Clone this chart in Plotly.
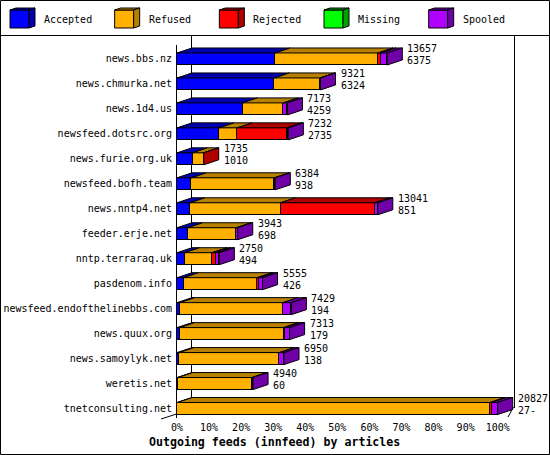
import plotly.graph_objects as go

# ---------------- data ----------------
hosts = ["news.bbs.nz", "news.chmurka.net", "news.1d4.us", "newsfeed.dotsrc.org",
         "news.furie.org.uk", "newsfeed.bofh.team", "news.nntp4.net", "feeder.erje.net",
         "nntp.terraraq.uk", "pasdenom.info", "newsfeed.endofthelinebbs.com",
         "news.quux.org", "news.samoylyk.net", "weretis.net", "tnetconsulting.net"]
offered = [13657, 9321, 7173, 7232, 1735, 6384, 13041, 3943, 2750, 5555, 7429, 7313, 6950, 4940, 20827]
accepted = [6375, 6324, 4259, 2735, 1010, 938, 851, 698, 494, 426, 194, 179, 138, 60, 27]
refused = [6680, 2967, 2643, 1169, 720, 5386, 5871, 3145, 1776, 4790, 6685, 6744, 6512, 4800, 20300]
rejected = [190, 0, 0, 3227, 5, 0, 6137, 0, 250, 80, 0, 60, 0, 0, 100]
missing = [0] * 15
spooled = [412, 30, 271, 101, 0, 60, 182, 100, 230, 259, 550, 330, 300, 80, 400]
offered_labels = [str(v) for v in offered]
accepted_labels = [str(v) for v in accepted[:-1]] + ["27-"]
series_names = ["Accepted", "Refused", "Rejected", "Missing", "Spooled"]
x_ticks = [0, 10, 20, 30, 40, 50, 60, 70, 80, 90, 100]
x_title = "Outgoing feeds (innfeed) by articles"

# ---------------- style ----------------
front_cols = ["#0000FF", "#FFB000", "#FF0000", "#00FF00", "#B000FF"]
dark_cols = ["#0000B0", "#B88000", "#B00000", "#00A000", "#7000A8"]
FONT = "DejaVu Sans Mono"
FW, FH = 550, 455
L, R, T, B = 177, 36, 35, 37
W, H = FW - L - R, FH - T - B
XMAX = 105.08
YMIN, YMAX = -0.38, 14.96
PPX = W / XMAX            # pixels per percent
PPY = H / (YMAX - YMIN)   # pixels per row unit
DX = 15 / PPX
DY = 5 / PPY
HALF = 6 / PPY


def px(x):
    return (x - L) / W


def py(y):
    return 1 - (y - T) / H


segs = [accepted, refused, rejected, missing, spooled]
n = len(hosts)
scale = 100.0 / max(offered)
rows = [n - 1 - k for k in range(n)]

fig = go.Figure()

# front faces
for s in range(5):
    vals = [v * scale if v > 0 else None for v in segs[s]]
    fig.add_trace(go.Bar(
        y=rows, x=vals, orientation="h", width=2 * HALF, name=series_names[s],
        marker=dict(color=front_cols[s], line=dict(color="black", width=1)),
        showlegend=False, hoverinfo="skip"))

# top faces and side faces
top_x = [[] for _ in range(5)]
top_y = [[] for _ in range(5)]
side_x = [[] for _ in range(5)]
side_y = [[] for _ in range(5)]
ends = []
for k in range(n):
    r = rows[k]
    cum = 0.0
    last = None
    yt = r + HALF
    yb = r - HALF
    for s in range(5):
        v = segs[s][k] * scale
        if v > 0:
            x0, x1 = cum, cum + v
            top_x[s] += [x0, x1, x1 + DX, x0 + DX, x0, None]
            top_y[s] += [yt, yt, yt + DY, yt + DY, yt, None]
            cum = x1
            last = s
    ends.append(cum)
    side_x[last] += [cum, cum + DX, cum + DX, cum, cum, None]
    side_y[last] += [yb, yb + DY, yt + DY, yt, yb, None]

for s in range(5):
    if top_x[s]:
        fig.add_trace(go.Scatter(x=top_x[s], y=top_y[s], mode="lines", fill="toself",
                                 fillcolor=dark_cols[s], line=dict(color="black", width=1),
                                 showlegend=False, hoverinfo="skip"))
for s in range(5):
    if side_x[s]:
        fig.add_trace(go.Scatter(x=side_x[s], y=side_y[s], mode="lines", fill="toself",
                                 fillcolor=dark_cols[s], line=dict(color="black", width=1),
                                 showlegend=False, hoverinfo="skip"))

annotations = []
for k in range(n):
    for txt, ys in ((offered_labels[k], 10), (accepted_labels[k], -2)):
        annotations.append(dict(x=ends[k], y=rows[k], xref="x", yref="y", text=txt,
                                xanchor="left", yanchor="middle", xshift=18, yshift=ys,
                                showarrow=False, font=dict(family=FONT, size=10, color="black")))

shapes = []
# legend cubes
for j in range(5):
    x0 = 10 + 104.67 * j
    front = f"M {px(x0)} {py(10)} L {px(x0+19)} {py(10)} L {px(x0+19)} {py(28)} L {px(x0)} {py(28)} Z"
    top = f"M {px(x0)} {py(10)} L {px(x0+6)} {py(8)} L {px(x0+25)} {py(8)} L {px(x0+19)} {py(10)} Z"
    side = f"M {px(x0+19)} {py(10)} L {px(x0+25)} {py(8)} L {px(x0+25)} {py(26)} L {px(x0+19)} {py(28)} Z"
    shapes.append(dict(type="path", path=front, xref="paper", yref="paper",
                       fillcolor=front_cols[j], line=dict(color="black", width=1)))
    shapes.append(dict(type="path", path=top, xref="paper", yref="paper",
                       fillcolor=dark_cols[j], line=dict(color="black", width=1)))
    shapes.append(dict(type="path", path=side, xref="paper", yref="paper",
                       fillcolor=dark_cols[j], line=dict(color="black", width=1)))
    annotations.append(dict(x=px(x0 + 32), y=py(20), xref="paper", yref="paper",
                            text=series_names[j], xanchor="left", yanchor="middle",
                            showarrow=False, font=dict(family=FONT, size=10, color="black")))


def line(x0, y0, x1, y1):
    shapes.append(dict(type="line", xref="paper", yref="paper", x0=px(x0), y0=py(y0),
                       x1=px(x1), y1=py(y1), line=dict(color="black", width=1), layer="below"))


line(0, 35.5, 550, 35.5)
line(191.5, 35.5, 191.5, 412)
line(514.5, 35.5, 514.5, 408)
line(176.5, 45, 176.5, 418)
line(161, 419, 176.5, 414)
line(508, 417, 513.5, 407)
shapes.append(dict(type="rect", xref="paper", yref="paper", x0=px(0.5), y0=py(0.5),
                   x1=px(549.5), y1=py(454.5), line=dict(color="black", width=1)))

annotations.append(dict(x=px(274.5), y=py(441.5), xref="paper", yref="paper", text="<b>" + x_title + "</b>",
                        xanchor="center", yanchor="middle", showarrow=False,
                        font=dict(family=FONT, size=11.6, color="black")))

fig.update_layout(
    width=FW, height=FH, margin=dict(l=L, r=R, t=T, b=B, autoexpand=False),
    paper_bgcolor="white", plot_bgcolor="rgba(0,0,0,0)", barmode="stack", bargap=0,
    showlegend=False, shapes=shapes, annotations=annotations,
    xaxis=dict(range=[0, XMAX], tickvals=x_ticks, ticktext=[f"{v}%" for v in x_ticks],
               showgrid=False, zeroline=False, showline=False, ticks="",
               tickfont=dict(family=FONT, size=10, color="black"), ticklabelstandoff=2,
               fixedrange=True),
    yaxis=dict(range=[YMIN, YMAX], tickvals=rows, ticktext=hosts, showgrid=False,
               zeroline=False, showline=False, ticks="", automargin=False,
               tickfont=dict(family=FONT, size=10, color="black"), ticklabelstandoff=4,
               fixedrange=True),
)

fig.write_html("out.html")
